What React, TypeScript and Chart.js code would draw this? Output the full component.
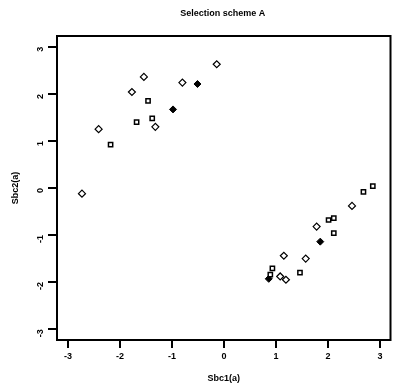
import React, { useEffect, useRef } from "react";
import { Chart, registerables } from "chart.js";

Chart.register(...registerables);

const titleText = "Selection scheme A";
const xTitle = "Sbc1(a)";
const yTitle = "Sbc2(a)";
const tickValues = [-3, -2, -1, 0, 1, 2, 3];

const diamondX = [-0.14, -1.54, -0.8, -1.77, -1.32, -2.41, -2.73, 2.46, 1.78, 1.57, 1.15, 1.08, 1.19];
const diamondY = [2.63, 2.36, 2.24, 2.04, 1.3, 1.25, -0.12, -0.38, -0.82, -1.5, -1.44, -1.88, -1.95];
const squareX = [-1.46, -1.68, -1.38, -2.18, 2.86, 2.68, 2.01, 2.11, 2.11, 1.46, 0.93, 0.89];
const squareY = [1.85, 1.4, 1.48, 0.92, 0.04, -0.08, -0.68, -0.64, -0.96, -1.8, -1.71, -1.84];
const filledX = [-0.51, -0.98, 1.85, 0.86];
const filledY = [2.21, 1.67, -1.14, -1.93];

const toPts = (xs: number[], ys: number[]) => xs.map((x, i) => ({ x, y: ys[i] }));

const FONT = "'Liberation Sans', Arial, sans-serif";

const framePlugin = {
  id: "frame",
  afterDraw(chart: any) {
    const { ctx, chartArea } = chart;
    ctx.save();
    ctx.strokeStyle = "#000";
    ctx.lineWidth = 2;
    ctx.strokeRect(chartArea.left, chartArea.top, chartArea.right - chartArea.left, chartArea.bottom - chartArea.top);
    ctx.fillStyle = "#000";
    ctx.font = `bold 9px ${FONT}`;
    ctx.textAlign = "center";
    ctx.textBaseline = "middle";
    ctx.fillText(titleText, (chartArea.left + chartArea.right) / 2 - 1, 14);
    ctx.restore();
  },
};

export default function App() {
  const ref = useRef<HTMLCanvasElement>(null);
  useEffect(() => {
    if (!ref.current) return;
    const chart = new Chart(ref.current, {
      type: "scatter",
      data: {
        datasets: [
          {
            data: toPts(diamondX, diamondY),
            pointStyle: "rectRot",
            pointRadius: 3.5,
            borderColor: "#000",
            backgroundColor: "#fff",
            borderWidth: 1.2,
          },
          {
            data: toPts(squareX, squareY),
            pointStyle: "rect",
            pointRadius: 3,
            borderColor: "#000",
            backgroundColor: "#fff",
            borderWidth: 1.5,
          },
          {
            data: toPts(filledX, filledY),
            pointStyle: "rectRot",
            pointRadius: 3.5,
            borderColor: "#000",
            backgroundColor: "#000",
            borderWidth: 1,
          },
        ],
      },
      options: {
        animation: false,
        responsive: false,
        layout: { padding: { top: 36, right: 2, left: 2, bottom: 0 } },
        plugins: { legend: { display: false }, tooltip: { enabled: false }, title: { display: false } },
        scales: {
          x: {
            type: "linear",
            min: -3.21,
            max: 3.2,
            afterBuildTicks: (s: any) => { s.ticks = tickValues.map((v) => ({ value: v })); },
            afterFit: (s: any) => { s.height = 44; },
            grid: { drawOnChartArea: false, tickLength: 8, color: "#000", lineWidth: 2 },
            border: { display: false },
            ticks: { color: "#000", font: { family: FONT, size: 9, weight: "bold" }, padding: 3, maxRotation: 0 },
            title: { display: true, text: xTitle, color: "#000", font: { family: FONT, size: 9, weight: "bold" }, padding: { top: 12, bottom: 0 } },
          },
          y: {
            type: "linear",
            min: -3.23,
            max: 3.23,
            afterBuildTicks: (s: any) => { s.ticks = tickValues.map((v) => ({ value: v })); },
            afterFit: (s: any) => { s.width = 55; },
            grid: { drawOnChartArea: false, tickLength: 9, color: "#000", lineWidth: 2 },
            border: { display: false },
            ticks: { color: "#000", font: { family: FONT, size: 9, weight: "bold" }, padding: 7, minRotation: 90, maxRotation: 90 },
            title: { display: true, text: yTitle, color: "#000", font: { family: FONT, size: 9, weight: "bold" }, padding: { top: 8, bottom: 0 } },
          },
        },
      },
      plugins: [framePlugin],
    } as any);
    return () => chart.destroy();
  }, []);
  return (
    <div style={{ position: "fixed", left: 0, top: 0, width: 396, height: 384, background: "#fff" }}>
      <canvas ref={ref} width={396} height={384} style={{ width: 396, height: 384, display: "block" }} />
    </div>
  );
}
